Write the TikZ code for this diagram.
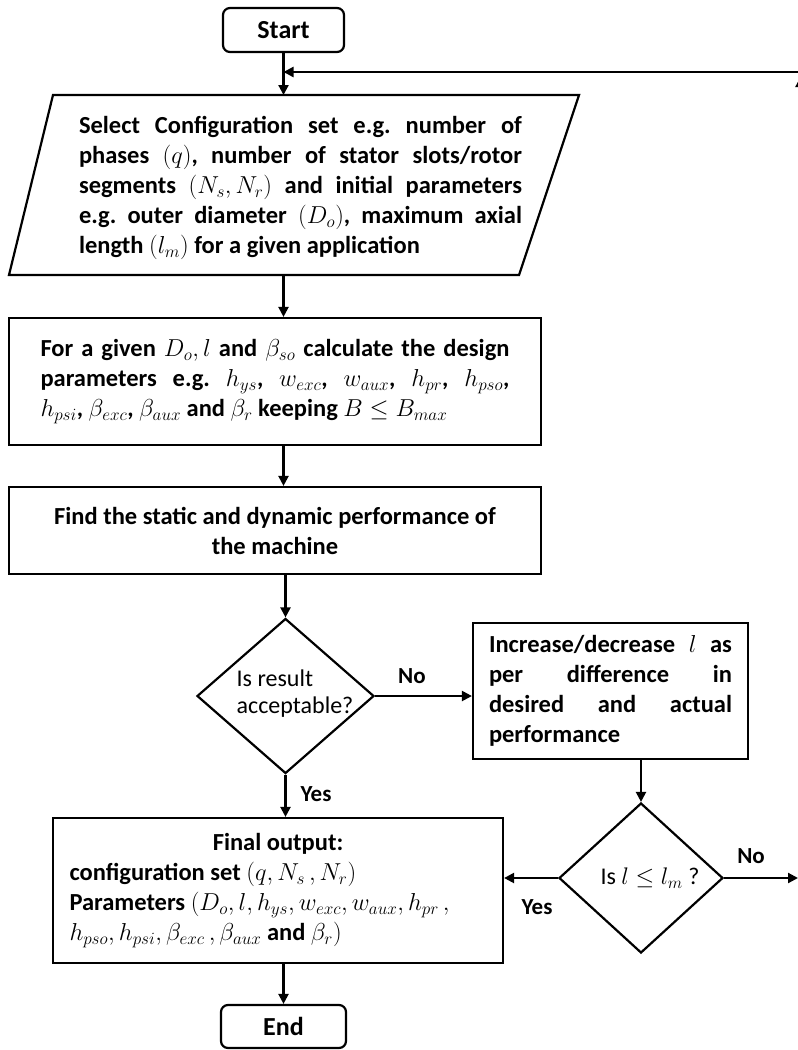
\RequirePackage{fix-cm}
\documentclass[tikz,border=0pt]{standalone}
\usepackage{fontspec}
\setmainfont{Carlito}
\usetikzlibrary{shapes.geometric,arrows.meta}
\frenchspacing
\tikzset{
  lw/.style={line width=2.2pt},
  box/.style={draw, lw, rectangle, inner sep=0pt, align=left, font=\fontsize{24.5}{30}\selectfont\bfseries\frenchspacing},
  term/.style={box, rounded corners=7pt, align=center, font=\fontsize{26}{30}\selectfont\bfseries},
  dec/.style={draw, lw, diamond, inner sep=0pt},
  dtxt/.style={inner sep=0pt, align=left, font=\fontsize{24}{27}\selectfont},
  arr/.style={lw, -{Triangle[length=10pt,width=10pt]}},
  lbl/.style={font=\fontsize{23}{26}\selectfont\bfseries, inner sep=0pt},
  txt/.style={inner sep=0pt, align=left, font=\fontsize{24.5}{30}\selectfont\bfseries\frenchspacing}
}
\begin{document}
\begin{tikzpicture}[x=1pt,y=-1pt]
\useasboundingbox (0,0) rectangle (798,1050);
% terminals
\node[term, minimum width=121pt, minimum height=44pt] (start) at (283.5,30) {Start};
% parallelogram (input)
\coordinate (pTL) at (53,95);
\coordinate (pTR) at (579,95);
\coordinate (pBR) at (519,275);
\coordinate (pBL) at (9,275);
\draw[lw] (pTL) -- (pTR) -- (pBR) -- (pBL) -- cycle;
\coordinate (pT) at (283.5,95);
\coordinate (pB) at (283.5,275);
\node[txt] (sel) at (300.5,188) {%
\makebox[443pt][s]{Select Configuration set e.g. number of}\\
\makebox[443pt][s]{phases $(q)$, number of stator slots/rotor}\\
\makebox[443pt][s]{segments $(N_s, N_r)$ and initial parameters}\\
\makebox[443pt][s]{e.g. outer diameter $(D_o)$, maximum axial}\\
length $(l_m)$ for a given application};
% design box
\node[box, minimum width=532pt, minimum height=127pt] (calc) at (275,381.5) {%
\makebox[469pt][s]{For a given $D_o, l$ and $\beta_{so}$ calculate the design}\\
\makebox[469pt][s]{parameters e.g. $h_{ys}$, $w_{exc}$, $w_{aux}$, $h_{pr}$, $h_{pso}$,}\\
\makebox[469pt][l]{$h_{psi}$, $\beta_{exc}$, $\beta_{aux}$ and $\beta_r$ keeping $B \le B_{max}$}};
% performance box
\node[box, align=center, minimum width=532pt, minimum height=87pt] (find) at (275,530.5) {Find the static and dynamic performance of\\the machine};
% decision 1
\node[dec, minimum width=177pt, minimum height=155pt] (d1) at (285.5,696) {};
\node[dtxt] (d1t) at (295,694) {Is result\\acceptable?};
% increase box
\node[box, minimum width=275pt, minimum height=136pt] (incr) at (610.5,691) {%
\makebox[243pt][s]{Increase/decrease $l$ as}\\
\makebox[243pt][s]{per difference in}\\
\makebox[243pt][s]{desired and actual}\\
performance};
% decision 2
\node[dec, minimum width=164pt, minimum height=150pt] (d2) at (641,878) {};
\node[dtxt] (d2t) at (650,878) {Is $l \le l_m$ ?};
% output box
\node[box, minimum width=450pt, minimum height=145pt] (out) at (278,890.5) {%
\makebox[417pt][c]{Final output:}\\
configuration set $(q, N_s\,, N_r)$\\
Parameters $(D_o, l, h_{ys}, w_{exc}, w_{aux}, h_{pr}\,,$\\
$h_{pso}, h_{psi}, \beta_{exc}\,, \beta_{aux}$ and $\beta_r)$};
\node[term, minimum width=125pt, minimum height=43pt] (end) at (283.5,1026.5) {End};
% connectors
\coordinate (fbR) at (800,72);
\coordinate (noEnd) at (798,878);
\draw[arr] (start.south) -- (pT);
\draw[arr] (fbR) -- (start.south |- fbR);
\draw[arr] (pB) -- (pB |- calc.north);
\draw[arr] (calc.south -| pB) -- (find.north -| pB);
\draw[arr] (find.south -| d1) -- (d1.north);
\draw[arr] (d1.east) -- (d1.east -| incr.west);
\draw[arr] (incr.south -| d2) -- (d2.north);
\draw[arr] (d1.south) -- (d1.south |- out.north);
\draw[arr] (d2.west) -- (d2.west -| out.east);
\draw[arr] (d2.east) -- (noEnd);
\draw[arr] (out.south -| end) -- (end.north);
% cropped arrow tip at right edge
\coordinate (cutB) at (800.5,120);
\coordinate (cutT) at (800.5,77);
\begin{scope}
\clip (0,0) rectangle (798,1050);
\draw[arr] (cutB) -- (cutT);
\end{scope}
% labels
\node[lbl] (no1) at (412,676) {No};
\node[lbl] (yes1) at (316,794) {Yes};
\node[lbl] (no2) at (751,856) {No};
\node[lbl] (yes2) at (537,907) {Yes};
\end{tikzpicture}
\end{document}
